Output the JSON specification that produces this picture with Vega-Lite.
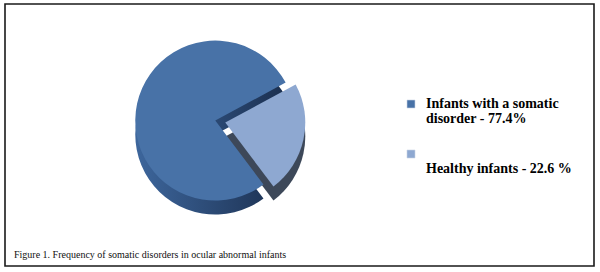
{
  "$schema": "https://vega.github.io/schema/vega-lite/v6.json",
  "width": 589,
  "height": 262,
  "autosize": "none",
  "padding": {"left": 5, "top": 4, "right": 6, "bottom": 6},
  "background": "white",
  "config": {"view": {"stroke": null}, "style": {"guide-label": {"lineHeight": 15}}},
  "title": {
    "text": "Figure 1. Frequency of somatic disorders in ocular abnormal infants",
    "orient": "bottom",
    "anchor": "start",
    "frame": "group",
    "offset": -17,
    "dx": 9,
    "font": "Liberation Serif",
    "fontSize": 10,
    "fontWeight": "normal",
    "color": "#111111"
  },
  "data": {
    "values": [
      {"group": "Infants with a somatic disorder - 77.4%", "pct": 77.4},
      {"group": "Healthy infants - 22.6 %", "pct": 22.6}
    ]
  },
  "transform": [
    {"stack": "pct", "groupby": [], "sort": [{"field": "group", "order": "ascending"}], "offset": "normalize", "as": ["t0", "t1"]}
  ],
  "layer": [
    {
      "transform": [{"filter": "datum.group != 'Healthy infants - 22.6 %'"}],
      "mark": {"type": "rect", "fill": "transparent", "stroke": "#1a1a1a", "strokeWidth": 1.6},
      "encoding": {}
    },
    {
      "transform": [{"filter": "datum.group == 'Healthy infants - 22.6 %'"}],
      "mark": {"type": "arc", "x": {"expr": "width * 0.357"}, "y": {"expr": "height * 0.445"}, "radius": 80, "xOffset": 10, "yOffset": 16, "color": "#3d4859"},
      "encoding": {
        "theta": {"field": "t0", "type": "quantitative", "scale": {"domain": [0, 1], "range": [1.075, 7.358]}},
        "theta2": {"field": "t1"}
      }
    },
    {
      "transform": [{"filter": "datum.group != 'Healthy infants - 22.6 %'"}],
      "mark": {"type": "arc", "x": {"expr": "width * 0.357"}, "y": {"expr": "height * 0.445"}, "radius": 80, "yOffset": 14,
        "color": {"gradient": "linear", "x1": 0, "x2": 1, "y1": 0, "y2": 0, "stops": [{"offset": 0, "color": "#3d669c"}, {"offset": 1, "color": "#1b2f4f"}]}},
      "encoding": {
        "theta": {"field": "t0", "type": "quantitative"},
        "theta2": {"field": "t1"}
      }
    },
    {
      "transform": [{"filter": "datum.group != 'Healthy infants - 22.6 %'"}],
      "mark": {"type": "arc", "x": {"expr": "width * 0.357"}, "y": {"expr": "height * 0.445"}, "radius": 80},
      "encoding": {
        "theta": {"field": "t0", "type": "quantitative"},
        "theta2": {"field": "t1"},
        "color": {
          "field": "group",
          "type": "nominal",
          "scale": {"domain": ["Infants with a somatic disorder - 77.4%", "Healthy infants - 22.6 %"], "range": ["#4872a7", "#8ea8d1"]},
          "legend": {
            "orient": "none",
            "legendX": 399,
            "legendY": 93,
            "title": null,
            "padding": 0,
            "symbolType": "square",
            "symbolSize": 64,
            "symbolStrokeColor": "#c9d4e6",
            "symbolStrokeWidth": 0.6,
            "labelFont": "Liberation Serif",
            "labelFontSize": 14,
            "labelFontWeight": "bold",
            "labelColor": "#000000",
            "labelOffset": 8,
            "labelLimit": 300,
            "rowPadding": 21,
            "labelExpr": "datum.label == 'Healthy infants - 22.6 %' ? ['', 'Healthy infants - 22.6 %'] : ['Infants with a somatic', 'disorder - 77.4%']"
          }
        }
      }
    },
    {
      "transform": [{"filter": "datum.group == 'Healthy infants - 22.6 %'"}],
      "mark": {"type": "arc", "x": {"expr": "width * 0.357"}, "y": {"expr": "height * 0.445"}, "radius": 80, "xOffset": 10, "yOffset": 2},
      "encoding": {
        "theta": {"field": "t0", "type": "quantitative"},
        "theta2": {"field": "t1"},
        "color": {"field": "group", "type": "nominal"}
      }
    }
  ]
}
